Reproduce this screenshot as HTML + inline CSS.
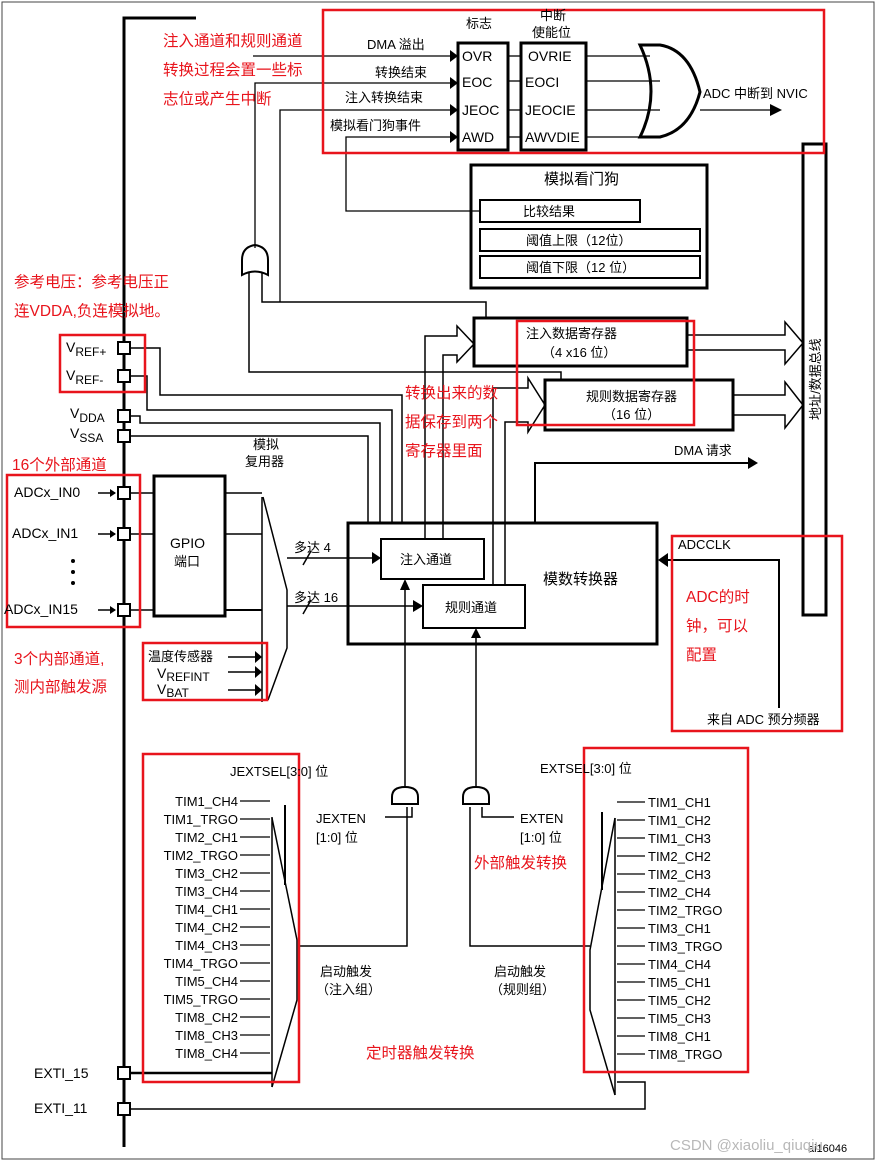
<!DOCTYPE html>
<html><head><meta charset="utf-8"><style>
html,body{margin:0;padding:0;background:#fff}
svg{display:block}
text{font-family:"Liberation Sans","Noto Sans CJK SC",sans-serif;fill:#000}
.s{font-size:13px}
.r text{fill:#e8141c;font-size:15.5px}
text.wm{fill:#b8b8b8}
</style></head><body>
<svg width="877" height="1163" viewBox="0 0 877 1163" xmlns="http://www.w3.org/2000/svg">
<rect x="2" y="2" width="872" height="1157" fill="none" stroke="#444" stroke-width="1"/>
<g stroke="#000" fill="none">
<polyline points="196,18 124,18 124,1147" stroke-width="3"/>
<rect x="458" y="43" width="50" height="107" stroke-width="3"/>
<rect x="521" y="43" width="65" height="107" stroke-width="3"/>
<g stroke-width="1.3">
<line x1="508" y1="56" x2="521" y2="56"/><line x1="508" y1="81" x2="521" y2="81"/>
<line x1="508" y1="110" x2="521" y2="110"/><line x1="508" y1="137" x2="521" y2="137"/>
<line x1="586" y1="56" x2="650" y2="56"/><line x1="586" y1="81" x2="660" y2="81"/>
<line x1="586" y1="110" x2="660" y2="110"/><line x1="586" y1="137" x2="645" y2="137"/>
<line x1="253" y1="56" x2="450" y2="56"/>
<polyline points="255,248 255,83 450,83"/>
<polyline points="280,302 280,110 450,110"/>
<polyline points="480,211 346,211 346,137 450,137"/>
<polyline points="700,110 772,110"/>
</g>
<path d="M640,45 L660,45 Q690,50 700,92 Q690,130 660,137 L640,137 Q662,92 640,45 Z" stroke-width="3"/>
<rect x="471" y="165" width="236" height="123" stroke-width="3"/>
<rect x="480" y="200" width="160" height="22" stroke-width="2"/>
<rect x="480" y="229" width="220" height="22" stroke-width="2"/>
<rect x="480" y="256" width="220" height="22" stroke-width="2"/>
<rect x="803" y="144" width="23" height="471" stroke-width="3"/>
<rect x="474" y="318" width="213" height="48" stroke-width="3"/>
<rect x="545" y="380" width="188" height="50" stroke-width="3"/>
<g stroke-width="1.5">
<polyline points="687,335 785,335 785,322 803,343 785,364 785,350 687,350"/>
<polyline points="733,395 785,395 785,382 803,405 785,428 785,415 733,415"/>
<polyline points="425,539 425,336 457,336 457,326 474,344 457,362 457,355 443,355 443,539"/>
<polyline points="493,585 493,388 528,388 528,378 545,405 528,432 528,422 505,422 505,585"/>
<path d="M242,275 L242,260 Q242,247 255,245 Q268,247 268,260 L268,275 Q255,268 242,275 Z" stroke-width="2"/>
<polyline points="249,272 249,372 561,372 561,380"/>
<polyline points="262,272 262,302 486,302 486,318"/>
<polyline points="130,348 160,348 160,395 402,395 402,523"/>
<polyline points="130,376 147,376 147,410 392,410 392,523"/>
<polyline points="130,416 140,416 140,423 380,423 380,523"/>
<polyline points="130,436 368,436 368,523"/>
</g>
<g stroke-width="2" fill="#fff">
<rect x="118" y="342" width="12" height="12"/><rect x="118" y="370" width="12" height="12"/>
<rect x="118" y="410" width="12" height="12"/><rect x="118" y="430" width="12" height="12"/>
<rect x="118" y="487" width="12" height="12"/><rect x="118" y="528" width="12" height="12"/>
<rect x="118" y="604" width="12" height="12"/><rect x="118" y="1067" width="12" height="12"/>
<rect x="118" y="1103" width="12" height="12"/>
</g>
<rect x="348" y="523" width="309" height="121" stroke-width="3"/>
<rect x="381" y="539" width="103" height="40" stroke-width="2"/>
<rect x="423" y="585" width="102" height="43" stroke-width="2"/>
<polyline points="535,523 535,463 750,463" stroke-width="2"/>
<polyline points="779,708 779,560 668,560" stroke-width="2"/>
<rect x="154" y="476" width="71" height="140" stroke-width="3"/>
<g stroke-width="1.5">
<line x1="98" y1="493" x2="115" y2="493"/><line x1="98" y1="534" x2="115" y2="534"/><line x1="98" y1="610" x2="115" y2="610"/>
<line x1="130" y1="493" x2="154" y2="493"/><line x1="130" y1="534" x2="154" y2="534"/><line x1="130" y1="610" x2="154" y2="610"/>
<line x1="225" y1="493" x2="262" y2="493"/><line x1="225" y1="534" x2="262" y2="534"/><line x1="225" y1="610" x2="262" y2="610" stroke-width="2"/>
<line x1="228" y1="657" x2="255" y2="657"/><line x1="228" y1="672" x2="255" y2="672"/><line x1="228" y1="690" x2="255" y2="690"/>
<polyline points="262,497 262,702"/>
<polyline points="263,497 287,590 287,648 268,700"/>
<line x1="287" y1="558" x2="372" y2="558"/><line x1="287" y1="606" x2="413" y2="606"/>
<line x1="303" y1="565" x2="311" y2="551"/><line x1="303" y1="614" x2="311" y2="600"/>
<line x1="405" y1="590" x2="405" y2="787"/>
<line x1="476" y1="638" x2="476" y2="787"/>
<polyline points="412,807 412,817 385,817"/>
<polyline points="407,807 407,946 299,946"/>
<polyline points="482,807 482,817 514,817"/>
<polyline points="470,807 470,946 590,946"/>
<line x1="272" y1="817" x2="272" y2="1087"/>
<polyline points="272,818 297,940 297,1000 272,1087"/>
<line x1="285" y1="805" x2="285" y2="885" stroke-width="2"/>
<line x1="615" y1="818" x2="615" y2="1095"/>
<polyline points="615,818 590,950 590,1010 615,1095"/>
<line x1="602" y1="812" x2="602" y2="890" stroke-width="2"/>
<polyline points="130,1109 645,1109 645,1082 617,1082"/>
</g>
<line x1="130" y1="1073" x2="272" y2="1073" stroke-width="2.5"/>
<path d="M405,787 Q392,787 392,797 L392,804 L418,804 L418,797 Q418,787 405,787 Z" stroke-width="2"/>
<path d="M476,787 Q463,787 463,797 L463,804 L489,804 L489,797 Q489,787 476,787 Z" stroke-width="2"/>
<g stroke-width="1.3">
<line x1="240" y1="801" x2="270" y2="801"/><line x1="240" y1="819" x2="270" y2="819"/><line x1="240" y1="837" x2="270" y2="837"/><line x1="240" y1="855" x2="270" y2="855"/><line x1="240" y1="873" x2="270" y2="873"/><line x1="240" y1="891" x2="270" y2="891"/><line x1="240" y1="909" x2="270" y2="909"/><line x1="240" y1="927" x2="270" y2="927"/><line x1="240" y1="945" x2="270" y2="945"/><line x1="240" y1="963" x2="270" y2="963"/><line x1="240" y1="981" x2="270" y2="981"/><line x1="240" y1="999" x2="270" y2="999"/><line x1="240" y1="1017" x2="270" y2="1017"/><line x1="240" y1="1035" x2="270" y2="1035"/><line x1="240" y1="1053" x2="270" y2="1053"/>
<line x1="617" y1="802" x2="645" y2="802"/><line x1="617" y1="820" x2="645" y2="820"/><line x1="617" y1="838" x2="645" y2="838"/><line x1="617" y1="856" x2="645" y2="856"/><line x1="617" y1="874" x2="645" y2="874"/><line x1="617" y1="892" x2="645" y2="892"/><line x1="617" y1="910" x2="645" y2="910"/><line x1="617" y1="928" x2="645" y2="928"/><line x1="617" y1="946" x2="645" y2="946"/><line x1="617" y1="964" x2="645" y2="964"/><line x1="617" y1="982" x2="645" y2="982"/><line x1="617" y1="1000" x2="645" y2="1000"/><line x1="617" y1="1018" x2="645" y2="1018"/><line x1="617" y1="1036" x2="645" y2="1036"/><line x1="617" y1="1054" x2="645" y2="1054"/>
</g>
</g>
<g fill="#000">
<path d="M450,50 L458,56 L450,62Z"/><path d="M450,77 L458,83 L450,89Z"/><path d="M450,104 L458,110 L450,116Z"/><path d="M450,131 L458,137 L450,143Z"/>
<path d="M770,104 L782,110 L770,116Z"/><path d="M748,457 L758,463 L748,469Z"/><path d="M668,553 L658,560 L668,567Z"/>
<path d="M372,552 L381,558 L372,564Z"/><path d="M413,600 L423,606 L413,612Z"/>
<path d="M400,590 L405,579 L410,590Z"/><path d="M471,638 L476,628 L481,638Z"/>
<path d="M255,651 L262,657 L255,663Z"/><path d="M255,666 L262,672 L255,678Z"/><path d="M255,684 L262,690 L255,696Z"/>
<path d="M110,489 L116,493 L110,497Z"/><path d="M110,530 L116,534 L110,538Z"/><path d="M110,606 L116,610 L110,614Z"/>
<circle cx="73" cy="561" r="2"/><circle cx="73" cy="572" r="2"/><circle cx="73" cy="583" r="2"/>
</g>
<g fill="none" stroke="#e8141c" stroke-width="2.5">
<rect x="323" y="10" width="501" height="143"/><rect x="60" y="335" width="85" height="57"/>
<rect x="7" y="475" width="133" height="152"/><rect x="143" y="643" width="124" height="57"/>
<rect x="517" y="321" width="177" height="104"/><rect x="672" y="536" width="170" height="195"/>
<rect x="143" y="754" width="156" height="328"/><rect x="584" y="748" width="164" height="324"/>
</g>
<g class="s">
<text x="466" y="28">标志</text><text x="540" y="20">中断</text><text x="532" y="37">使能位</text>
<text x="367" y="49">DMA 溢出</text><text x="375" y="77">转换结束</text><text x="345" y="102">注入转换结束</text><text x="330" y="130">模拟看门狗事件</text>
<text x="462" y="61" font-size="14">OVR</text><text x="462" y="87" font-size="14">EOC</text><text x="462" y="115" font-size="14">JEOC</text><text x="462" y="142" font-size="14">AWD</text>
<text x="528" y="61" font-size="14">OVRIE</text><text x="525" y="87" font-size="14">EOCI</text><text x="525" y="115" font-size="14">JEOCIE</text><text x="525" y="142" font-size="14">AWVDIE</text>
<text x="703" y="98">ADC 中断到 NVIC</text>
<text x="544" y="184" font-size="15">模拟看门狗</text>
<text x="523" y="216">比较结果</text><text x="526" y="245">阈值上限（12位）</text><text x="526" y="272">阈值下限（12 位）</text>
<text x="526" y="338">注入数据寄存器</text><text x="542" y="357">（4 x16 位）</text>
<text x="586" y="401">规则数据寄存器</text><text x="603" y="419">（16 位）</text>
<text x="674" y="455">DMA 请求</text>
<text transform="translate(820,420) rotate(-90)">地址/数据总线</text>
<text x="66" y="352" font-size="14">V<tspan font-size="12" dy="4">REF+</tspan></text>
<text x="66" y="380" font-size="14">V<tspan font-size="12" dy="4">REF-</tspan></text>
<text x="70" y="418" font-size="14">V<tspan font-size="12" dy="4">DDA</tspan></text>
<text x="70" y="438" font-size="14">V<tspan font-size="12" dy="4">SSA</tspan></text>
<text x="253" y="449">模拟</text><text x="245" y="466">复用器</text>
<text x="14" y="497" font-size="14">ADCx_IN0</text><text x="12" y="538" font-size="14">ADCx_IN1</text><text x="4" y="614" font-size="14">ADCx_IN15</text>
<text x="170" y="548" font-size="14">GPIO</text><text x="174" y="566">端口</text>
<text x="148" y="661">温度传感器</text>
<text x="157" y="678" font-size="14">V<tspan font-size="12" dy="3">REFINT</tspan></text>
<text x="157" y="694" font-size="14">V<tspan font-size="12" dy="3">BAT</tspan></text>
<text x="294" y="552">多达 4</text><text x="294" y="602">多达 16</text>
<text x="400" y="564">注入通道</text><text x="445" y="612">规则通道</text>
<text x="543" y="584" font-size="15">模数转换器</text>
<text x="678" y="549">ADCCLK</text><text x="707" y="724">来自 ADC 预分频器</text>
<text x="230" y="776">JEXTSEL[3:0] 位</text><text x="540" y="773">EXTSEL[3:0] 位</text>
<text x="316" y="823">JEXTEN</text><text x="316" y="842">[1:0] 位</text>
<text x="520" y="823">EXTEN</text><text x="520" y="842">[1:0] 位</text>
<text x="320" y="976">启动触发</text><text x="316" y="994">（注入组）</text>
<text x="494" y="976">启动触发</text><text x="490" y="994">（规则组）</text>
<text x="34" y="1078" font-size="14">EXTI_15</text><text x="34" y="1113" font-size="14">EXTI_11</text>
</g>
<g class="s" font-size="14" text-anchor="end">
<text x="238" y="806">TIM1_CH4</text><text x="238" y="824">TIM1_TRGO</text><text x="238" y="842">TIM2_CH1</text><text x="238" y="860">TIM2_TRGO</text><text x="238" y="878">TIM3_CH2</text><text x="238" y="896">TIM3_CH4</text><text x="238" y="914">TIM4_CH1</text><text x="238" y="932">TIM4_CH2</text><text x="238" y="950">TIM4_CH3</text><text x="238" y="968">TIM4_TRGO</text><text x="238" y="986">TIM5_CH4</text><text x="238" y="1004">TIM5_TRGO</text><text x="238" y="1022">TIM8_CH2</text><text x="238" y="1040">TIM8_CH3</text><text x="238" y="1058">TIM8_CH4</text>
</g>
<g class="s" font-size="14">
<text x="648" y="807">TIM1_CH1</text><text x="648" y="825">TIM1_CH2</text><text x="648" y="843">TIM1_CH3</text><text x="648" y="861">TIM2_CH2</text><text x="648" y="879">TIM2_CH3</text><text x="648" y="897">TIM2_CH4</text><text x="648" y="915">TIM2_TRGO</text><text x="648" y="933">TIM3_CH1</text><text x="648" y="951">TIM3_TRGO</text><text x="648" y="969">TIM4_CH4</text><text x="648" y="987">TIM5_CH1</text><text x="648" y="1005">TIM5_CH2</text><text x="648" y="1023">TIM5_CH3</text><text x="648" y="1041">TIM8_CH1</text><text x="648" y="1059">TIM8_TRGO</text>
</g>
<g class="r">
<text x="163" y="46">注入通道和规则通道</text><text x="163" y="75">转换过程会置一些标</text><text x="163" y="104">志位或产生中断</text>
<text x="14" y="287">参考电压：参考电压正</text><text x="14" y="316">连VDDA,负连模拟地。</text>
<text x="12" y="470">16个外部通道</text>
<text x="14" y="664">3个内部通道,</text><text x="14" y="692">测内部触发源</text>
<text x="405" y="398">转换出来的数</text><text x="405" y="427">据保存到两个</text><text x="405" y="456">寄存器里面</text>
<text x="686" y="602">ADC的时</text><text x="686" y="631">钟，可以</text><text x="686" y="660">配置</text>
<text x="474" y="868">外部触发转换</text><text x="366" y="1058">定时器触发转换</text>
</g>
<text x="808" y="1152" font-size="11">ai16046</text>
<text class="wm" x="670" y="1150" font-size="15">CSDN @xiaoliu_qiuqiu</text>
</svg>
</body></html>
